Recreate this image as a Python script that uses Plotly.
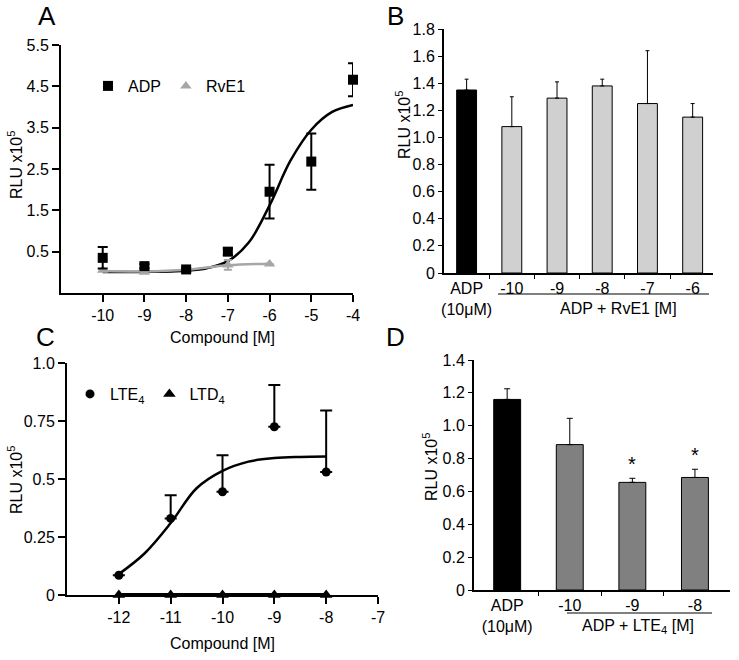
import plotly.graph_objects as go

# ---- Panel A data ----
a_x = [-10, -9, -8, -7, -6, -5, -4]
a_ticktext = ["-10", "-9", "-8", "-7", "-6", "-5", "-4"]
adp_y = [0.35, 0.15, 0.07, 0.50, 1.95, 2.68, 4.66]
adp_err = [0.26, 0.05, 0.04, 0.08, 0.65, 0.68, 0.40]
rve1_x = [-10, -9, -8, -7, -6]
rve1_y = [0.05, 0.0, 0.05, 0.18, 0.20]
rve1_err = [0.0, 0.0, 0.0, 0.12, 0.0]
adp_fit_x = [-10, -9, -8, -7.5, -7, -6.5, -6, -5.5, -5, -4.5, -4]
adp_fit_y = [0.01, 0.01, 0.04, 0.10, 0.27, 0.72, 1.62, 2.70, 3.45, 3.88, 4.05]
rve1_fit_x = [-10, -9, -8, -7, -6]
rve1_fit_y = [0.03, 0.02, 0.06, 0.17, 0.21]

# ---- Panel B data ----
b_labels = ["ADP<br>(10μM)", "-10", "-9", "-8", "-7", "-6"]
b_vals = [1.35, 1.08, 1.29, 1.38, 1.25, 1.15]
b_err = [0.08, 0.22, 0.12, 0.05, 0.39, 0.10]

# ---- Panel C data ----
c_x = [-12, -11, -10, -9, -8]
c_tickvals = [-12, -11, -10, -9, -8, -7]
c_ticktext = ["-12", "-11", "-10", "-9", "-8", "-7"]
lte4_y = [0.085, 0.33, 0.445, 0.725, 0.53]
lte4_err = [0.0, 0.10, 0.157, 0.18, 0.265]
ltd4_y = [0, 0, 0, 0, 0]
lte4_fit_x = [-12, -11.5, -11, -10.5, -10, -9.5, -9, -8.5, -8]
lte4_fit_y = [0.09, 0.18, 0.31, 0.46, 0.535, 0.575, 0.59, 0.595, 0.597]

# ---- Panel D data ----
d_labels = ["ADP<br>(10μM)", "-10", "-9", "-8"]
d_vals = [1.16, 0.885, 0.655, 0.685]
d_err = [0.065, 0.16, 0.025, 0.05]

FONT = "Liberation Sans, Arial, sans-serif"
W, H = 739, 660


def px(x):
    return x / W


def py(y):
    return 1 - y / H


fig = go.Figure()

# Panel A
fig.add_trace(go.Scatter(x=adp_fit_x, y=adp_fit_y, mode="lines", line=dict(color="black", width=2.5, shape="spline"),
                         showlegend=False, xaxis="x", yaxis="y"))
fig.add_trace(go.Scatter(x=rve1_fit_x, y=rve1_fit_y, mode="lines", line=dict(color="#a6a6a6", width=2.5, shape="spline"),
                         showlegend=False, xaxis="x", yaxis="y"))
fig.add_trace(go.Scatter(x=rve1_x, y=rve1_y, mode="markers", name="RvE1",
                         marker=dict(symbol="triangle-up", size=10, color="#a6a6a6"),
                         error_y=dict(type="data", array=rve1_err, color="#a6a6a6", thickness=2, width=4),
                         xaxis="x", yaxis="y", legend="legend", cliponaxis=False))
fig.add_trace(go.Scatter(x=a_x, y=adp_y, mode="markers", name="ADP",
                         marker=dict(symbol="square", size=10, color="black"),
                         error_y=dict(type="data", array=adp_err, color="black", thickness=2, width=5),
                         xaxis="x", yaxis="y", legend="legend", cliponaxis=False))

# Panel B
fig.add_trace(go.Bar(x=list(range(len(b_vals))), y=b_vals, width=0.44,
                     marker=dict(color=["black"] + ["#d0d0d0"] * 5, line=dict(color="black", width=1)),
                     error_y=dict(type="data", array=b_err, arrayminus=[0] * 6, symmetric=False,
                                  color="black", thickness=1, width=2),
                     showlegend=False, xaxis="x2", yaxis="y2"))

# Panel C
fig.add_trace(go.Scatter(x=lte4_fit_x, y=lte4_fit_y, mode="lines", line=dict(color="black", width=2.5, shape="spline"),
                         showlegend=False, xaxis="x3", yaxis="y3"))
fig.add_trace(go.Scatter(x=c_x, y=ltd4_y, mode="lines", line=dict(color="black", width=4),
                         showlegend=False, xaxis="x3", yaxis="y3", cliponaxis=False))
fig.add_trace(go.Scatter(x=c_x, y=lte4_y, mode="markers", name="LTE<sub>4</sub>",
                         marker=dict(symbol="circle", size=9, color="black"),
                         error_y=dict(type="data", array=lte4_err, arrayminus=[0] * 5, symmetric=False,
                                      color="black", thickness=2, width=6),
                         xaxis="x3", yaxis="y3", legend="legend2", cliponaxis=False))
fig.add_trace(go.Scatter(x=c_x, y=ltd4_y, mode="markers", name="LTD<sub>4</sub>",
                         marker=dict(symbol="triangle-up", size=11, color="black"),
                         xaxis="x3", yaxis="y3", legend="legend2", cliponaxis=False))

# Panel D
fig.add_trace(go.Bar(x=list(range(len(d_vals))), y=d_vals, width=0.43,
                     marker=dict(color=["black"] + ["#808080"] * 3, line=dict(color="black", width=1)),
                     error_y=dict(type="data", array=d_err, arrayminus=[0] * 4, symmetric=False,
                                  color="black", thickness=1, width=3),
                     showlegend=False, xaxis="x4", yaxis="y4"))

axis_common = dict(showline=True, linecolor="black", showgrid=False, zeroline=False, automargin=False,
                   ticks="outside", tickcolor="black")

fig.update_layout(
    template="none",
    width=W, height=H, autosize=False,
    margin=dict(l=0, r=0, t=0, b=0, pad=0),
    paper_bgcolor="white", plot_bgcolor="white",
    font=dict(family=FONT, color="black", size=16),
    xaxis=dict(**axis_common, domain=[px(61), px(353)], range=[-11, -4], tickvals=a_x, ticktext=a_ticktext,
               tickfont=dict(size=16), linewidth=2, tickwidth=2, ticklen=7, anchor="y"),
    yaxis=dict(**axis_common, domain=[py(293), py(45)], range=[-0.5, 5.5],
               tickvals=[0.5, 1.5, 2.5, 3.5, 4.5, 5.5], ticktext=["0.5", "1.5", "2.5", "3.5", "4.5", "5.5"],
               tickfont=dict(size=16), linewidth=2, tickwidth=2, ticklen=7, anchor="x"),
    xaxis2=dict(**{**axis_common, "ticks": ""}, domain=[px(444), px(713)], range=[-0.5, 5.45],
                tickvals=list(range(6)), ticktext=b_labels, tickfont=dict(size=16), linewidth=2, anchor="y2",
                minor=dict(tickvals=[0.5, 1.5, 2.5, 3.5, 4.5], ticks="outside", ticklen=4, tickcolor="black", tickwidth=1)),
    yaxis2=dict(**axis_common, domain=[py(273), py(29)], range=[0, 1.8],
                tickvals=[0, 0.2, 0.4, 0.6, 0.8, 1.0, 1.2, 1.4, 1.6, 1.8],
                ticktext=["0", "0.2", "0.4", "0.6", "0.8", "1.0", "1.2", "1.4", "1.6", "1.8"],
                tickfont=dict(size=16), linewidth=2, tickwidth=1, ticklen=4, anchor="x2"),
    xaxis3=dict(**axis_common, domain=[px(67), px(378)], range=[-13, -7], tickvals=c_tickvals, ticktext=c_ticktext,
                tickfont=dict(size=16), linewidth=2, tickwidth=2, ticklen=7, anchor="y3"),
    yaxis3=dict(**axis_common, domain=[py(595), py(363)], range=[0, 1.0],
                tickvals=[0, 0.25, 0.5, 0.75, 1.0], ticktext=["0", "0.25", "0.5", "0.75", "1.0"],
                tickfont=dict(size=16), linewidth=2, tickwidth=2, ticklen=7, anchor="x3"),
    xaxis4=dict(**{**axis_common, "ticks": ""}, domain=[px(474), px(730)], range=[-0.53, 3.56],
                tickvals=list(range(4)), ticktext=d_labels, tickfont=dict(size=16), linewidth=2, anchor="y4",
                minor=dict(tickvals=[0.5, 1.5, 2.5], ticks="outside", ticklen=4, tickcolor="black", tickwidth=1)),
    yaxis4=dict(**axis_common, domain=[py(590), py(360)], range=[0, 1.4],
                tickvals=[0, 0.2, 0.4, 0.6, 0.8, 1.0, 1.2, 1.4],
                ticktext=["0", "0.2", "0.4", "0.6", "0.8", "1.0", "1.2", "1.4"],
                tickfont=dict(size=16), linewidth=2, tickwidth=1, ticklen=4, anchor="x4"),
    legend=dict(orientation="h", x=px(88), y=py(86), xanchor="left", yanchor="middle",
                bgcolor="rgba(0,0,0,0)", font=dict(size=16), traceorder="reversed"),
    legend2=dict(orientation="h", x=px(70), y=py(394), xanchor="left", yanchor="middle",
                 bgcolor="rgba(0,0,0,0)", font=dict(size=16)),
)

# Panel letters, axis titles, group labels
annotations = [
    dict(text="A", x=px(47), y=py(16), font=dict(size=26)),
    dict(text="B", x=px(395), y=py(16), font=dict(size=26)),
    dict(text="C", x=px(45), y=py(337), font=dict(size=26)),
    dict(text="D", x=px(395), y=py(337), font=dict(size=26)),
    dict(text="RLU x10<sup>5</sup>", x=px(15), y=py(165), textangle=-90, font=dict(size=16)),
    dict(text="RLU x10<sup>5</sup>", x=px(403), y=py(125), textangle=-90, font=dict(size=16)),
    dict(text="RLU x10<sup>5</sup>", x=px(15), y=py(480), textangle=-90, font=dict(size=16)),
    dict(text="RLU x10<sup>5</sup>", x=px(430), y=py(467), textangle=-90, font=dict(size=16)),
    dict(text="Compound [M]", x=px(223), y=py(337), font=dict(size=16)),
    dict(text="Compound [M]", x=px(222), y=py(643), font=dict(size=16)),
    dict(text="ADP + RvE1 [M]", x=px(618), y=py(308), font=dict(size=16)),
    dict(text="ADP + LTE<sub>4</sub> [M]", x=px(638), y=py(626), font=dict(size=16)),
]
for a in annotations:
    a.update(xref="paper", yref="paper", showarrow=False, xanchor="center", yanchor="middle")
    fig.add_annotation(**a)

# significance stars in D
for i in [2, 3]:
    fig.add_annotation(x=i, y=d_vals[i] + d_err[i], xref="x4", yref="y4", text="*", showarrow=False,
                       yanchor="bottom", yshift=1, font=dict(size=20))

# underline for grouped categories
fig.add_shape(type="line", xref="paper", yref="paper", x0=px(498), x1=px(709), y0=py(294), y1=py(294),
              line=dict(color="black", width=1))
fig.add_shape(type="line", xref="paper", yref="paper", x0=px(567), x1=px(712), y0=py(613), y1=py(613),
              line=dict(color="black", width=1))

# the page body has a default 8px margin; remove it so the figure sits at the window origin
fig.write_html("out.html", config={"displayModeBar": False},
               post_script="document.body.style.margin='0';")
